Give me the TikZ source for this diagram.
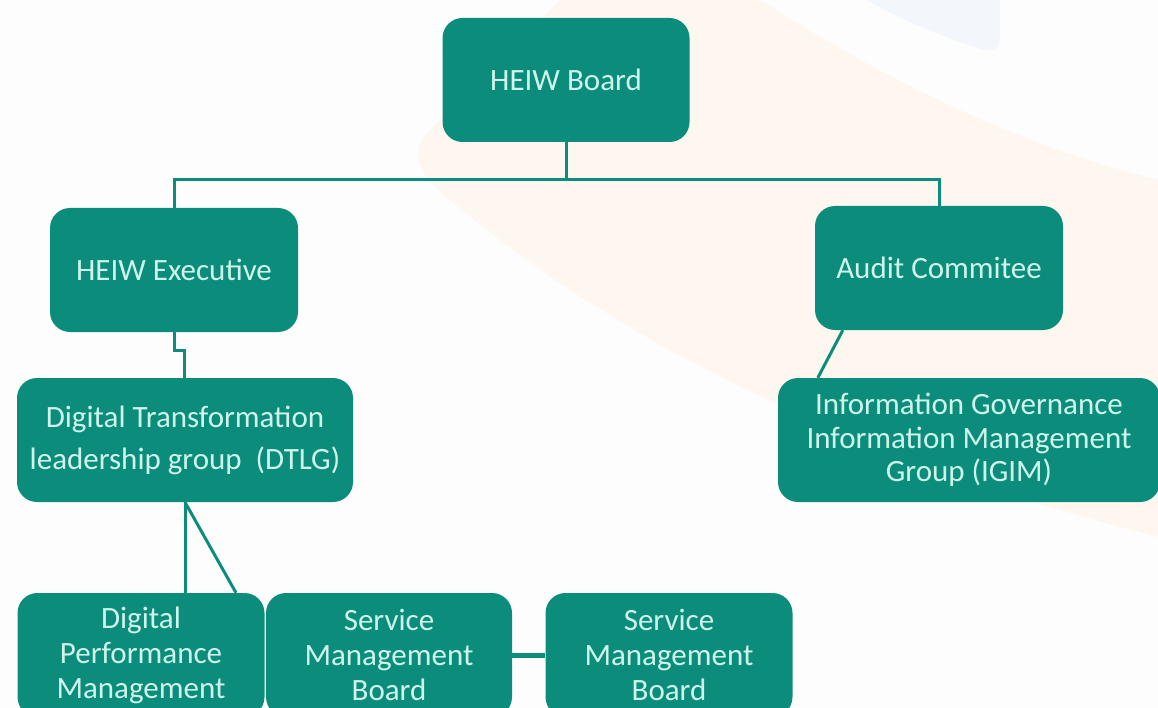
\documentclass[tikz,border=0pt]{standalone}
\usepackage{fontspec}
\setmainfont{Carlito}
\usetikzlibrary{calc}
\definecolor{orgfill}{HTML}{0C8D7B}
\definecolor{orgtext}{HTML}{CDF5EC}
\definecolor{bgpaper}{HTML}{FDFDFD}
\definecolor{cream}{HTML}{FDF7F0}
\definecolor{paleblue}{HTML}{F3F7FB}
\begin{document}
\begin{tikzpicture}[x=1pt,y=-1pt,
  unit/.style={fill=orgfill, rounded corners=20pt, text=orgtext, align=center,
    inner sep=0pt, minimum height=124pt, font=\fontsize{31}{35}\selectfont},
  link/.style={draw=orgfill, line width=3pt}]
% page and backdrop
\useasboundingbox (0,0) rectangle (1158,708);
\clip (0,0) rectangle (1158,708);
\fill[bgpaper] (0,0) rectangle (1158,708);
\fill[cream] (560,0) -- (760,0) .. controls (870,70) and (1000,140) .. (1158,180)
  -- (1158,537) .. controls (880,465) and (640,360) .. (450,200)
  .. controls (415,172) and (410,150) .. (430,130) -- cycle;
\fill[paleblue] (867,0) .. controls (900,20) and (950,40) .. (985,50)
  .. controls (998,52) and (1000,45) .. (1000,35) -- (1000,0) -- cycle;

% boxes
\node[unit, minimum width=247pt] (board) at (566,80) {HEIW Board};
\node[unit, minimum width=248pt] (exec) at (174,270) {HEIW Executive};
\node[unit, minimum width=248pt] (audit) at (939,268) {Audit Commitee};
\node[unit, minimum width=336pt, font=\fontsize{31}{42}\selectfont] (dtlg) at (185,440)
  {Digital Transformation\\leadership group\ \ (DTLG)};
\node[unit, minimum width=382pt, font=\fontsize{31}{33.5}\selectfont] (igim) at (969,440)
  {Information Governance\\Information Management\\Group (IGIM)};
\node[unit, minimum width=247pt] (dpm) at (141,655) {Digital\\Performance\\Management};
\node[unit, minimum width=246pt] (smb1) at (389,655) {Service\\Management\\Board};
\node[unit, minimum width=247pt] (smb2) at (669,655) {Service\\Management\\Board};

% connectors
\coordinate (bus) at (566,180);
\draw[link] (board) -- (bus) -| (exec);
\draw[link] (bus) -| (audit);
\coordinate (jogA) at (174,350);
\coordinate (jogB) at (184,350);
\draw[link] (exec.south) -- (jogA) -- (jogB) -- (jogB |- dtlg.north);
\draw[link] (dtlg.south) -- (dtlg.south |- dpm.north);
\draw[link] (dtlg.south) -- ($(dpm.north)+(95,0)$);
\draw[link] ($(audit.south west)+(28,0)$) -- ($(igim.north west)+(40,0)$);
\draw[link, line width=5pt] (smb1) -- (smb2);
\end{tikzpicture}
\end{document}
